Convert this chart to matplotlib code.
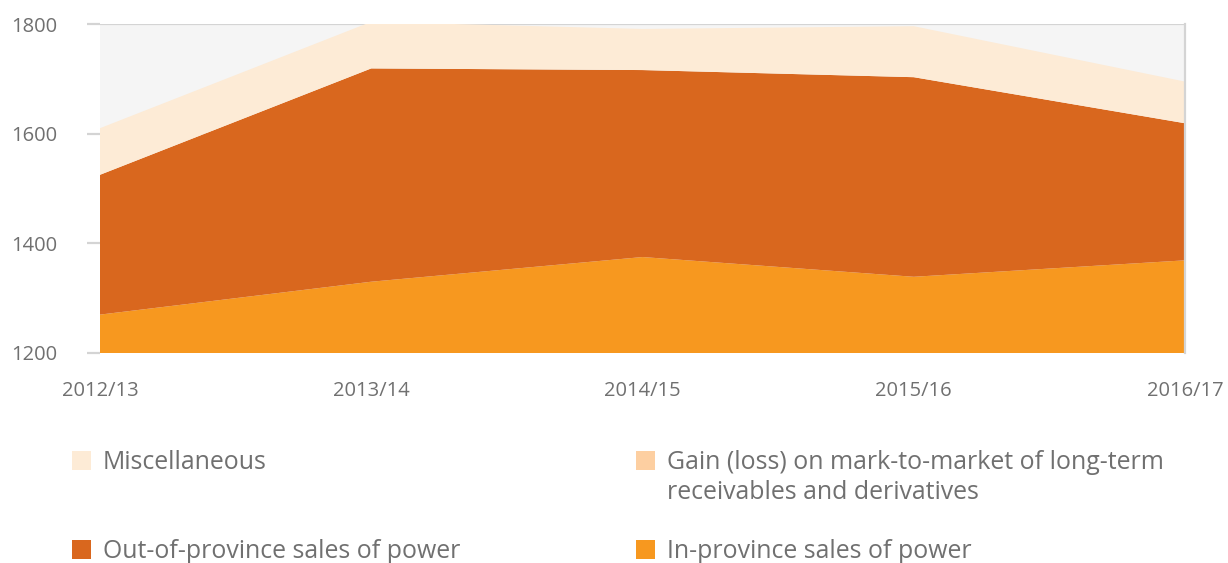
import matplotlib
matplotlib.use("Agg")
import matplotlib.pyplot as plt
from matplotlib.patches import Rectangle

years = ["2012/13", "2013/14", "2014/15", "2015/16", "2016/17"]
in_province = [1270, 1330, 1375, 1339, 1369]
out_province = [255, 389, 341, 364, 250]
gain_loss = [0, 0, 0, 0, 0]
misc = [85, 85, 75, 93, 76]
y_ticks = [1200, 1400, 1600, 1800]

labels = ["In-province sales of power", "Out-of-province sales of power",
          "Gain (loss) on mark-to-market of long-term\nreceivables and derivatives",
          "Miscellaneous"]
colors = ["#f7981f", "#d9671e", "#fdcfa1", "#fdebd6"]

plt.rcParams['font.family'] = ['Open Sans', 'DejaVu Sans']
txt = "#707070"
grid = "#d4d4d4"

fig = plt.figure(figsize=(12.28, 5.63), dpi=100)
W, H = 1228, 563
ax = fig.add_axes([100 / W, 1 - 353 / H, (1185 - 100) / W, (353 - 24) / H])
ax.set_facecolor("#f5f5f5")

x = list(range(len(years)))
ax.stackplot(x, in_province, out_province, gain_loss, misc, colors=colors,
             labels=labels, baseline="zero", zorder=2, linewidth=0)

ax.set_xlim(0, len(years) - 1)
ax.set_ylim(1200, 1800)
ax.set_yticks(y_ticks)
ax.set_yticklabels([str(v) for v in y_ticks])
ax.set_xticks(x)
ax.set_xticklabels(years)
ax.set_axisbelow(True)
ax.yaxis.grid(True, color=grid, linewidth=1.6, zorder=0)
ax.tick_params(axis="y", length=9.4, width=1.6, color=grid, pad=21,
               labelsize=14.5, labelcolor=txt)
ax.tick_params(axis="x", length=0, pad=20, labelsize=14.5, labelcolor=txt)
ax.set_xticks(x[1:], minor=True)
ax.tick_params(axis="x", which="minor", length=9, width=1.6, color=grid)

for s in ["left", "top", "bottom"]:
    ax.spines[s].set_visible(False)
ax.spines["right"].set_color(grid)
ax.spines["right"].set_linewidth(1.6)
ax.spines["right"].set_zorder(3)

# legend drawn manually in figure coordinates
entries = [
    (72, 460, colors[3], labels[3]),
    (636, 460, colors[2], labels[2]),
    (72, 549, colors[1], labels[1]),
    (636, 549, colors[0], labels[0]),
]
sq = 19
for px, py, c, lab in entries:
    fig.add_artist(Rectangle((px / W, 1 - (py + sq / 2) / H), sq / W, sq / H,
                             transform=fig.transFigure, facecolor=c, edgecolor="none"))
    for i, line in enumerate(lab.split("\n")):
        fig.text((px + 31) / W, 1 - (py + 9 + 30 * i) / H, line, ha="left",
                 va="baseline", fontsize=17.9, color=txt)

fig.savefig("out.png", dpi=100)
